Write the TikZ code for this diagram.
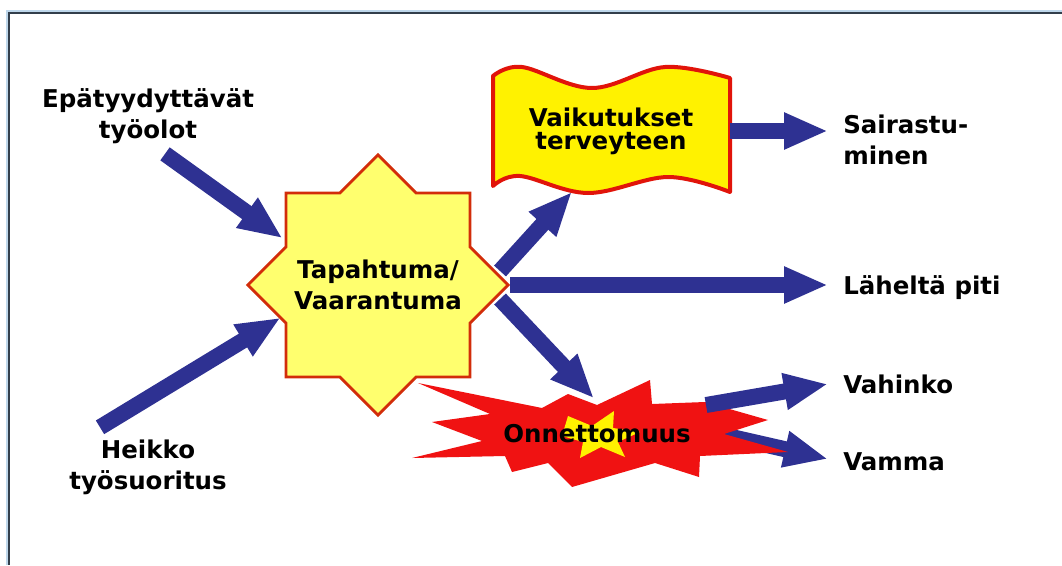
\documentclass[tikz,border=0pt]{standalone}
\usepackage{fontspec}
\setmainfont{DejaVu Sans}
\usetikzlibrary{shapes.geometric,arrows.meta,calc}

\definecolor{arrowblue}{RGB}{46,49,146}
\definecolor{starfill}{RGB}{255,255,110}
\definecolor{starline}{RGB}{210,45,10}
\definecolor{flagline}{RGB}{225,20,10}
\definecolor{burstred}{RGB}{240,18,18}
\definecolor{framegray}{RGB}{50,62,75}
\definecolor{framehalo}{RGB}{190,215,235}

\tikzset{
  fatarrow/.style={arrowblue, line width=0.4cm, -{Triangle[length=1.1cm,width=0.85cm]}},
  term/.style={font=\bfseries\fontsize{17.4}{22}\selectfont, align=center, inner sep=0pt},
  outcome/.style={term, align=left, anchor=west},
}

\begin{document}
\begin{tikzpicture}[x=0.025cm, y=-0.025cm]
    \useasboundingbox (0,0) rectangle (1062,565);
    % Frame round the slide.
        \draw[framehalo, line width=0.12cm] (8,565) -- (8,12) -- (1062,12);
        \draw[framegray, line width=0.05cm] (9,565) -- (9,13) -- (1062,13);
    % Below nodes are the labels.
        \node[term] (conditions) at (148,116) {Epätyydyttävät\\työolot};
        \node[term] (performance) at (148,467) {Heikko\\työsuoritus};
        \node[outcome] (illness) at (843,140) {Sairastu-\\minen};
        \node[outcome] (nearmiss) at (843,288) {Läheltä piti};
        \node[outcome] (damage) at (843,384) {Vahinko};
        \node[outcome] (injury) at (843,462) {Vamma};
    % The star in the middle.
        \node[star, star points=8, star point ratio=1.3066, minimum size=6.5cm, inner sep=0pt,
              fill=starfill, draw=starline, line width=0.07cm,
              label={[term]center:Tapahtuma/\\Vaarantuma}] (event) at (378,285) {};
        \draw[fatarrow] ($(conditions.south)+(17,10)$) -- ($(event.inner point 2)+(-2,-8)$);
        \draw[fatarrow] ($(performance.north)+(-48,-12)$) -- ($(event.inner point 3)+(-4,-6)$);
    % The wavy flag.
        \draw[flagline, fill=yellow, line width=0.1cm, line join=round]
            plot[smooth, tension=0.6] coordinates {(493,76) (522,67) (592,88) (665,67) (730,78)}
            -- plot[smooth, tension=0.6] coordinates {(730,192) (668,177) (588,193) (520,176) (493,186)}
            -- cycle;
        \node[term, font=\bfseries\fontsize{17.4}{16.4}\selectfont, minimum width=5.925cm,
              minimum height=2.825cm] (effects) at (611,131) {Vaikutukset\\terveyteen};
    % The burst, Vamma arrow goes under it.
        \coordinate (burstA) at (706,405);
        \coordinate (burstB) at (714,433);
        \draw[fatarrow] (burstB) -- ($(injury.west)+(-15,-3)$);
        \fill[burstred] (418,383) -- (542,408) -- (568,394) -- (597,405) -- (650,380)
            -- (652,404) -- (705,402) -- (768,420) -- (724,434) -- (788,452) -- (700,456)
            -- (699,477) -- (655,463) -- (572,487) -- (548,463) -- (512,472) -- (505,456)
            -- (412,458) -- (482,441) -- (432,422) -- (490,414) -- cycle;
        \fill[yellow] (568,416) -- (592,426) -- (614,411) -- (613,428) -- (640,432)
            -- (618,442) -- (625,457) -- (601,447) -- (580,458) -- (583,442) -- (562,436) -- cycle;
        \node[term] (accident) at (597,434) {Onnettomuus};
    % Arrows out of the star and the burst.
        \draw[fatarrow] ($(event.outer point 7)+(-10,-14)$) -- ($(effects.south)+(-39,4)$);
        \draw[fatarrow] ($(event.outer point 7)+(-10,14)$) -- ($(accident.north)+(-3,-26)$);
        \draw[fatarrow] (event.outer point 7) -- ($(event.outer point 7 -| nearmiss.west)+(-15,0)$);
        \draw[fatarrow] (effects.east) -- ($(effects.east -| illness.west)+(-15,0)$);
        \draw[fatarrow] (burstA) -- ($(damage.west)+(-15,0)$);
\end{tikzpicture}
\end{document}
